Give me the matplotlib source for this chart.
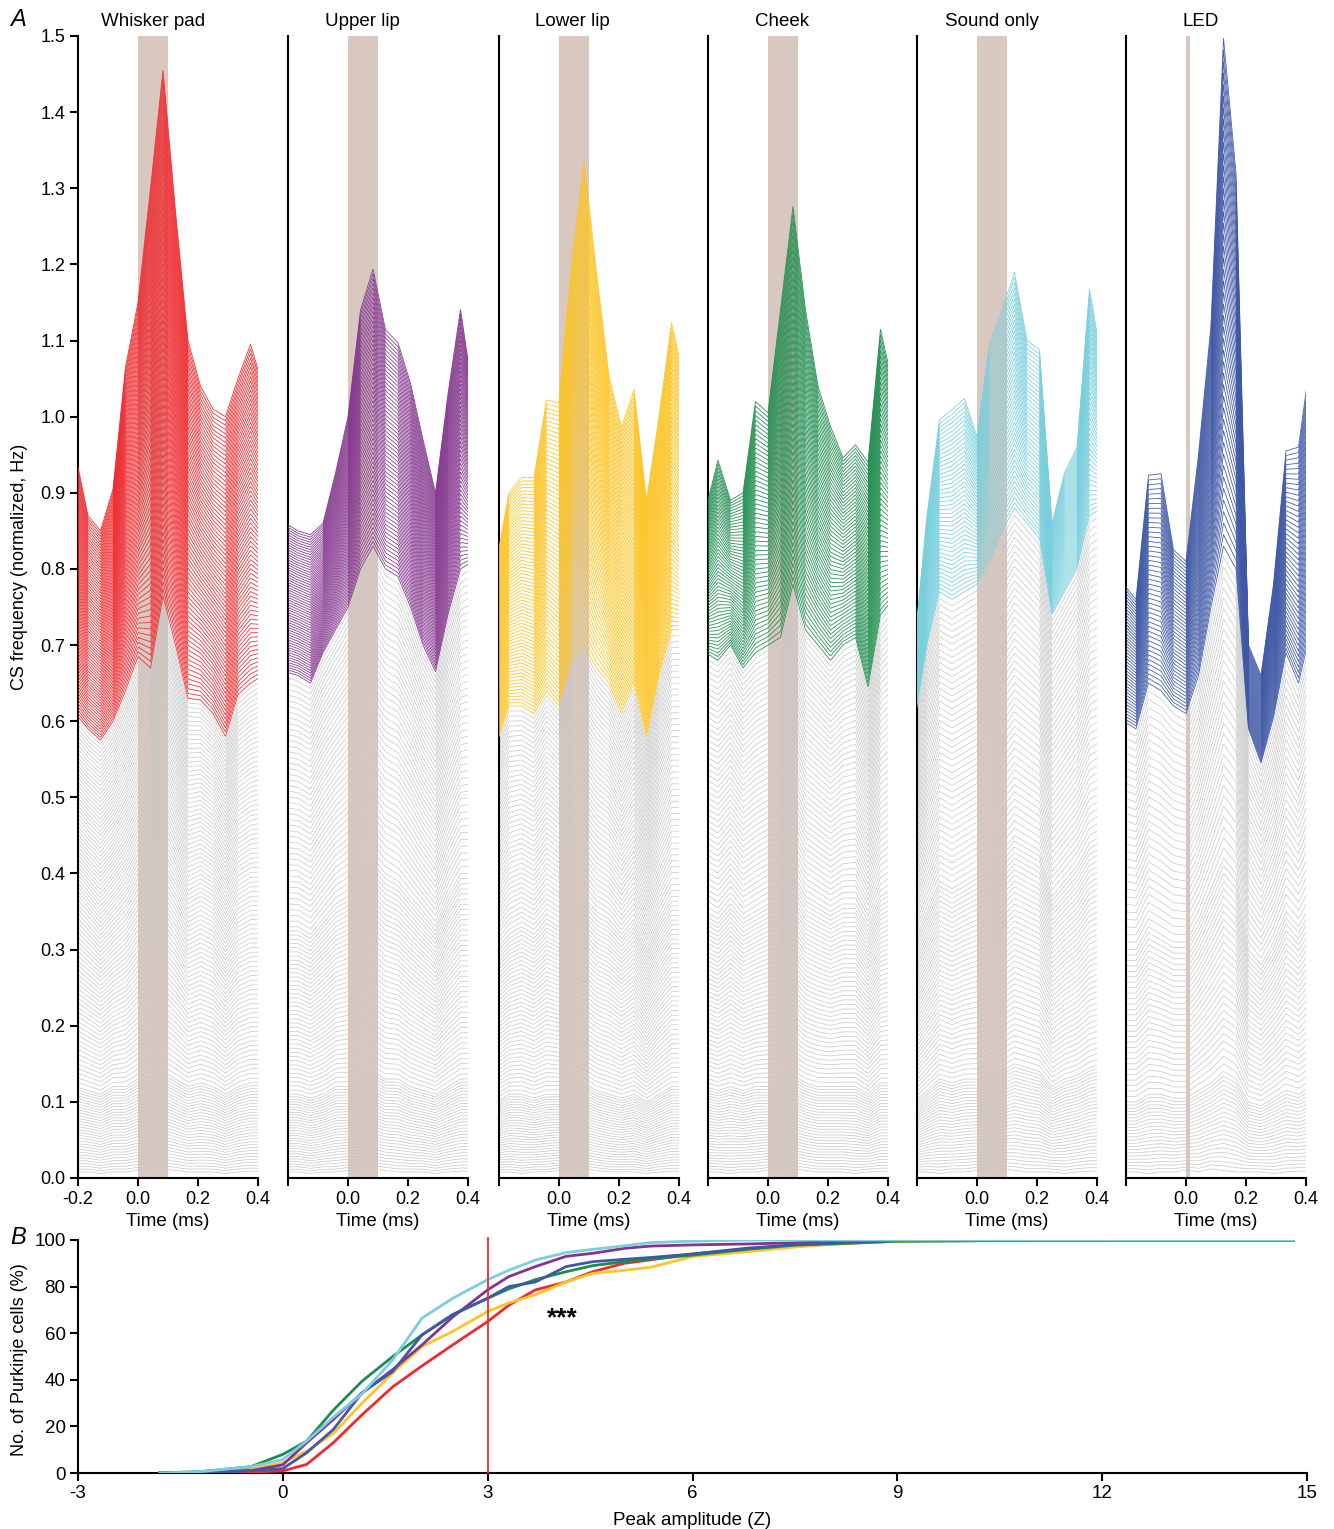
import numpy as np
import matplotlib
matplotlib.use('Agg')
import matplotlib.pyplot as plt

plt.rcParams['font.family'] = ['Liberation Sans', 'DejaVu Sans']
plt.rcParams['axes.unicode_minus'] = False

# ---------------- data: panel A ----------------
BIN = np.arange(-5, 11) / 24.0          # time bins (ms)
PANELS = ['Whisker pad', 'Upper lip', 'Lower lip', 'Cheek', 'Sound only', 'LED']
COLORS = ['#EE2A2E', '#83358D', '#FCC424', '#1E8C4E', '#7ACFDD', '#3F58A6']
STIM_END = [0.1, 0.1, 0.1, 0.1, 0.1, 0.012]

# guide traces (bottom gray -> lowest colored -> top colored)
WP_TOP = [0.95, 0.87, 0.85, 0.905, 1.065, 1.15, 1.30, 1.455, 1.27, 1.10, 1.04, 1.01, 1.00, 1.05, 1.095, 1.04]
WP_BND = [0.61, 0.59, 0.575, 0.60, 0.64, 0.685, 0.67, 0.765, 0.70, 0.63, 0.628, 0.61, 0.58, 0.635, 0.65, 0.66]
WP_MID = [0.37, 0.35, 0.33, 0.35, 0.37, 0.40, 0.38, 0.43, 0.40, 0.36, 0.37, 0.36, 0.33, 0.36, 0.37, 0.37]
WP_LOW = [0.12, 0.115, 0.11, 0.12, 0.12, 0.13, 0.125, 0.14, 0.13, 0.12, 0.125, 0.12, 0.11, 0.12, 0.125, 0.125]

UL_TOP = [0.86, 0.85, 0.845, 0.86, 0.926, 1.0, 1.14, 1.194, 1.114, 1.097, 1.044, 0.97, 0.90, 1.03, 1.141, 1.03]
UL_BND = [0.665, 0.66, 0.65, 0.69, 0.72, 0.75, 0.80, 0.83, 0.80, 0.79, 0.75, 0.70, 0.665, 0.74, 0.80, 0.81]
UL_MID = [0.33, 0.33, 0.32, 0.34, 0.36, 0.37, 0.40, 0.42, 0.40, 0.39, 0.37, 0.35, 0.33, 0.37, 0.40, 0.40]
UL_LOW = [0.11, 0.11, 0.105, 0.11, 0.12, 0.12, 0.13, 0.14, 0.13, 0.13, 0.12, 0.115, 0.11, 0.12, 0.13, 0.13]

LL_TOP = [0.81, 0.90, 0.92, 0.92, 1.022, 1.018, 1.20, 1.336, 1.19, 1.053, 0.986, 1.036, 0.89, 1.00, 1.123, 1.05]
LL_BND = [0.57, 0.62, 0.62, 0.61, 0.64, 0.62, 0.68, 0.70, 0.67, 0.65, 0.61, 0.65, 0.58, 0.66, 0.72, 0.72]
LL_MID = [0.30, 0.32, 0.33, 0.32, 0.34, 0.33, 0.36, 0.37, 0.35, 0.34, 0.32, 0.34, 0.30, 0.34, 0.37, 0.37]
LL_LOW = [0.10, 0.11, 0.11, 0.105, 0.11, 0.11, 0.12, 0.125, 0.115, 0.11, 0.105, 0.11, 0.10, 0.11, 0.12, 0.12]

CH_TOP = [0.877, 0.943, 0.89, 0.90, 1.02, 1.005, 1.14, 1.276, 1.14, 1.04, 0.987, 0.946, 0.963, 0.94, 1.115, 1.04]
CH_BND = [0.69, 0.68, 0.70, 0.67, 0.69, 0.70, 0.71, 0.78, 0.72, 0.70, 0.68, 0.70, 0.71, 0.645, 0.74, 0.76]
CH_MID = [0.35, 0.34, 0.36, 0.34, 0.35, 0.36, 0.36, 0.40, 0.37, 0.36, 0.35, 0.36, 0.36, 0.33, 0.37, 0.38]
CH_LOW = [0.12, 0.115, 0.12, 0.115, 0.12, 0.12, 0.12, 0.135, 0.125, 0.12, 0.12, 0.12, 0.12, 0.11, 0.125, 0.125]

SO_TOP = [0.70, 0.87, 0.996, 1.009, 1.024, 0.973, 1.096, 1.14, 1.19, 1.10, 1.088, 0.86, 0.926, 0.96, 1.168, 1.07]
SO_BND = [0.60, 0.70, 0.77, 0.76, 0.77, 0.78, 0.81, 0.85, 0.88, 0.86, 0.84, 0.74, 0.77, 0.80, 0.87, 0.88]
SO_MID = [0.31, 0.35, 0.39, 0.38, 0.39, 0.40, 0.41, 0.43, 0.45, 0.44, 0.43, 0.37, 0.39, 0.41, 0.44, 0.45]
SO_LOW = [0.10, 0.115, 0.13, 0.125, 0.13, 0.13, 0.135, 0.14, 0.15, 0.145, 0.14, 0.12, 0.13, 0.135, 0.145, 0.15]

LED_TOP = [0.78, 0.76, 0.923, 0.925, 0.825, 0.81, 0.95, 1.12, 1.497, 1.32, 0.70, 0.66, 0.78, 0.955, 0.96, 1.08]
LED_BND = [0.60, 0.59, 0.65, 0.64, 0.62, 0.61, 0.66, 0.75, 0.83, 0.80, 0.59, 0.545, 0.605, 0.69, 0.65, 0.72]
LED_MID = [0.30, 0.30, 0.33, 0.32, 0.31, 0.31, 0.34, 0.38, 0.42, 0.40, 0.30, 0.28, 0.31, 0.35, 0.33, 0.36]
LED_LOW = [0.10, 0.10, 0.11, 0.11, 0.105, 0.105, 0.115, 0.125, 0.14, 0.13, 0.10, 0.095, 0.105, 0.115, 0.11, 0.12]

BOTTOM = [0.008, 0.008, 0.006, 0.008, 0.008, 0.010, 0.008, 0.012, 0.010, 0.008, 0.008, 0.008, 0.006, 0.008, 0.009, 0.009]

GUIDES = [
    [BOTTOM, WP_LOW, WP_MID, WP_BND, WP_TOP],
    [BOTTOM, UL_LOW, UL_MID, UL_BND, UL_TOP],
    [BOTTOM, LL_LOW, LL_MID, LL_BND, LL_TOP],
    [BOTTOM, CH_LOW, CH_MID, CH_BND, CH_TOP],
    [BOTTOM, SO_LOW, SO_MID, SO_BND, SO_TOP],
    [BOTTOM, LED_LOW, LED_MID, LED_BND, LED_TOP],
]
# number of cell traces in each band (gray, gray, gray, colored)
COUNTS = [
    [30, 40, 45, 75],
    [30, 40, 45, 60],
    [30, 40, 45, 70],
    [30, 40, 45, 55],
    [30, 40, 45, 45],
    [22, 28, 30, 45],
]

# ---------------- data: panel B ----------------
CUM_X = [-1.8, -1.2, -0.47, 0.0, 0.35, 0.74, 1.16, 1.61, 2.04, 2.49, 3.0, 3.31, 3.7,
         4.15, 4.54, 5.0, 5.39, 6.0, 6.8, 7.5, 8.2, 9.0, 10.5, 12.0, 13.5, 14.8]
CUM_RED = [0, 0.2, 0.4, 0.9, 3.7, 13, 25, 37, 46, 55, 65, 72, 78.6, 82, 86.4, 90, 91.5,
           94, 96, 97.5, 98.5, 99.5, 99.8, 100, 100, 100]
CUM_PURPLE = [0, 0.3, 1.0, 3.5, 13, 23, 34.4, 44.4, 55, 67, 78.6, 84.3, 88.6, 93, 94.3,
              96.4, 97.4, 97.9, 98.3, 98.8, 99.3, 99.8, 100, 100, 100, 100]
CUM_YELLOW = [0, 0.3, 1.6, 4.4, 9.4, 17, 30, 43, 54.3, 60.8, 69.3, 73, 76.5, 82, 85.7, 87,
              88.3, 92.9, 95, 97, 98.5, 99.5, 99.8, 100, 100, 100]
CUM_GREEN = [0, 0.6, 2.7, 8, 13.7, 27, 39.4, 50, 59.3, 68, 75, 79, 83, 86.4, 89, 90.7,
             91.8, 93.5, 96, 97.8, 98.5, 99.5, 99.7, 99.8, 100, 100]
CUM_CYAN = [0, 0.6, 2.7, 5.8, 13.7, 24, 34, 48.6, 66.5, 75, 83, 87, 91.4, 94.6, 96, 97.5,
            98.9, 99.5, 100, 100, 100, 100, 100, 100, 100, 100]
CUM_BLUE = [0, 0.3, 1.0, 1.9, 8.7, 18.7, 34.4, 43.6, 59.3, 68, 75, 80, 82, 88.6, 90.7,
            91.7, 92.5, 94, 96.5, 98, 99, 99.8, 100, 100, 100, 100]
CUM_SERIES = [CUM_RED, CUM_YELLOW, CUM_GREEN, CUM_PURPLE, CUM_BLUE, CUM_CYAN]
CUM_COLORS = ['#EE2A2E', '#FCC424', '#1E8C4E', '#83358D', '#3F58A6', '#7ACFDD']

# ---------------- figure ----------------
W, H = 1334, 1529
fig = plt.figure(figsize=(W / 100, H / 100), dpi=100)

def fx(px):
    return px / W

def fy(py):
    return 1 - py / H

PANEL_LEFT = [78, 288, 499, 708, 917, 1126]
PANEL_W = 180
TITLE_X = [153, 362, 572, 782, 992, 1201]
SHADE = '#D8C8C0'
GRAY = '#C6C6C6'

for i, name in enumerate(PANELS):
    ax = fig.add_axes([fx(PANEL_LEFT[i]), fy(1178), fx(PANEL_W), (1178 - 36) / H])
    ax.axvspan(0, STIM_END[i], color=SHADE, lw=0, zorder=0)
    guides = [np.asarray(g) for g in GUIDES[i]]
    counts = COUNTS[i]
    nseg = len(counts)
    for s in range(nseg):
        lo, hi = guides[s], guides[s + 1]
        last = (s == nseg - 1)
        fr = np.linspace(0, 1, counts[s], endpoint=last)
        col = COLORS[i] if last else GRAY
        lw = 0.6 if last else 0.55
        alpha = 0.95 if last else 0.9
        for f in fr:
            ax.plot(BIN, lo + (hi - lo) * f, color=col, lw=lw, alpha=alpha,
                    zorder=3 if last else 2, solid_joinstyle='miter')
    ax.set_xlim(-0.2, 0.4)
    ax.set_ylim(0, 1.5)
    for sp in ['top', 'right']:
        ax.spines[sp].set_visible(False)
    for sp in ['left', 'bottom']:
        ax.spines[sp].set_linewidth(1.5)
    ax.set_xticks([-0.2, 0.0, 0.2, 0.4])
    if i == 0:
        ax.set_xticklabels(['-0.2', '0.0', '0.2', '0.4'])
        ax.set_yticks(np.round(np.arange(0, 1.51, 0.1), 1))
        ax.set_yticklabels(['%.1f' % v for v in np.arange(0, 1.51, 0.1)])
    else:
        ax.set_xticklabels(['', '0.0', '0.2', '0.4'])
        ax.set_yticks([])
    ax.tick_params(direction='out', length=6, width=1.5, labelsize=13, pad=3)
    ax.set_xlabel('Time (ms)', fontsize=13.5, labelpad=4)
    fig.text(fx(TITLE_X[i]), fy(22), name, ha='center', va='center', fontsize=13.5)

fig.text(fx(20), fy(567), 'CS frequency (normalized, Hz)', rotation=90,
         ha='center', va='center', fontsize=13)
fig.text(fx(18), fy(20), 'A', fontsize=17, style='italic', ha='center', va='center')
fig.text(fx(18), fy(1237), 'B', fontsize=17, style='italic', ha='center', va='center')

# ---------------- panel B ----------------
axb = fig.add_axes([fx(78), fy(1473), fx(1307 - 78), (1473 - 1240) / H])
for ys, c in zip(CUM_SERIES, CUM_COLORS):
    axb.plot(CUM_X, ys, color=c, lw=2.0, zorder=3)
axb.plot([3, 3], [0, 101], color='#EE2A2E', lw=1.3, clip_on=False, zorder=4)
axb.text(4.1, 66.5, '***', fontsize=19, fontweight='bold', ha='center', va='center')
axb.set_xlim(-3, 15)
axb.set_ylim(0, 100)
axb.set_xticks([-3, 0, 3, 6, 9, 12, 15])
axb.set_yticks([0, 20, 40, 60, 80, 100])
for sp in ['top', 'right']:
    axb.spines[sp].set_visible(False)
for sp in ['left', 'bottom']:
    axb.spines[sp].set_linewidth(1.5)
axb.tick_params(direction='out', length=6, width=1.5, labelsize=13.5, pad=3)
axb.set_xlabel('Peak amplitude (Z)', fontsize=13.5, labelpad=7)
fig.text(fx(20), fy(1360), 'No. of Purkinje cells (%)', rotation=90,
         ha='center', va='center', fontsize=13)

fig.savefig('out.png', dpi=100)
